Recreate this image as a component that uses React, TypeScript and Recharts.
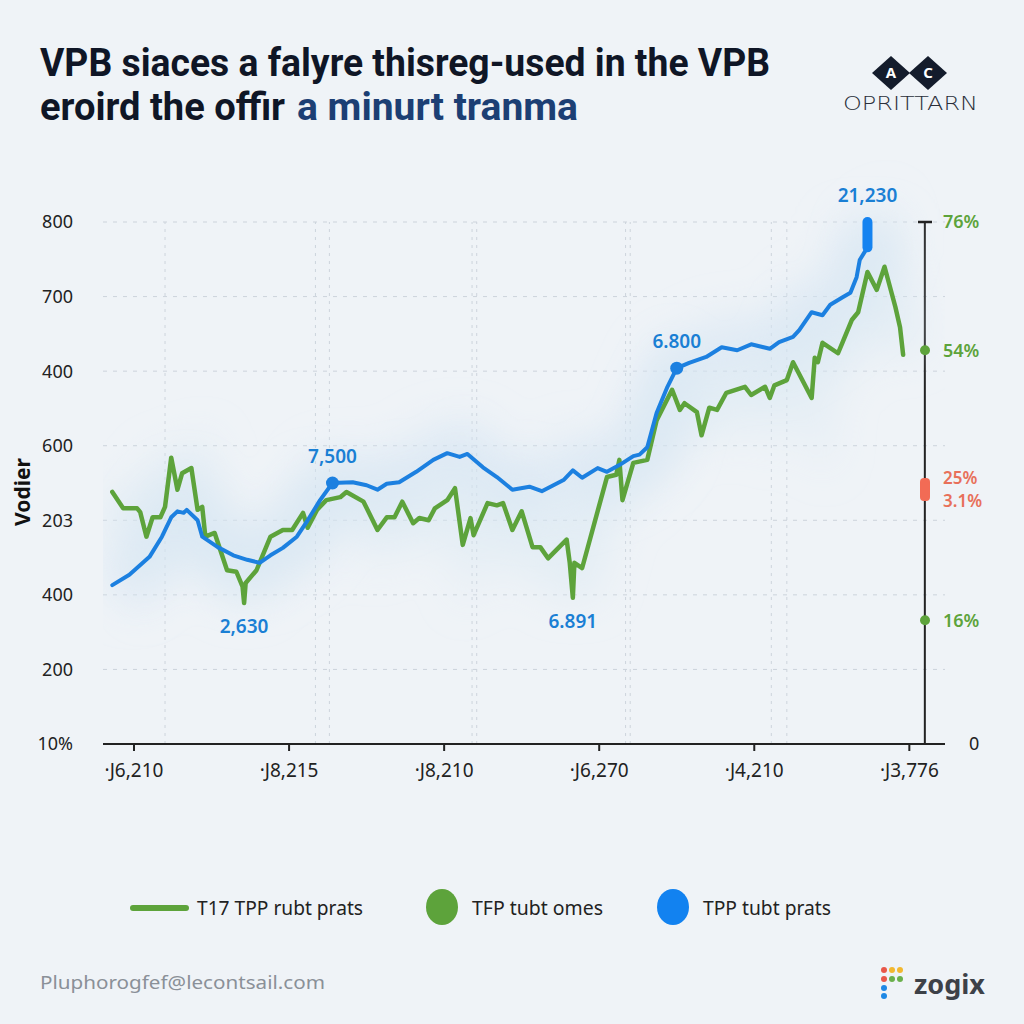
import React from 'react';
import { LineChart, Line, XAxis, YAxis, CartesianGrid, ReferenceLine, ReferenceDot } from 'recharts';

// ---------- data ----------
const leftTicks = [0, 100, 200, 300, 400, 500, 600, 700];
const leftTickLabels = ['10%', '200', '400', '203', '600', '400', '700', '800'];

const xTicks = [0, 100, 200, 300, 400, 500];
const xTickLabels = ['·J6,210', '·J8,215', '·J8,210', '·J6,270', '·J4,210', '·J3,776'];

const rightTicks = [0, 166, 342, 528, 700];
const rightTickLabels = ['0', '16%', '25%|3.1%', '54%', '76%'];
const rightTickKinds = ['plain', 'dot', 'pill', 'dot', 'cap'];
const rightAxisAt = 510;

const gridX = [20, 117, 126, 218, 221, 317, 320, 411, 421];

const blueX = [-14, -3, 10, 18, 24, 28, 32, 34, 41, 44, 54, 64, 73, 81, 88, 96, 105, 112, 120, 128, 141, 150, 157, 163, 171, 182, 193, 202, 210, 215, 225, 234, 244, 255, 263, 277, 283, 289, 299, 305, 313, 322, 326, 331, 337, 344, 350, 358, 369, 379, 389, 398, 410, 416, 425, 429, 437, 444, 449, 457, 462, 466, 468, 473, 473];
const blueY = [213, 227, 251, 278, 304, 312, 310, 314, 300, 278, 264, 253, 247, 243, 253, 263, 278, 300, 327, 350, 351, 347, 341, 349, 351, 365, 381, 390, 385, 389, 371, 358, 341, 345, 339, 354, 367, 357, 370, 365, 374, 386, 388, 398, 444, 479, 504, 511, 519, 532, 528, 536, 530, 539, 546, 555, 579, 575, 589, 599, 605, 626, 649, 666, 700];

const greenX = [-14, -7, 2, 4, 8, 12, 17, 20, 24, 28, 31, 37, 41, 44, 46, 52, 60, 66, 70, 71, 72, 79, 88, 96, 102, 109, 112, 118, 124, 133, 137, 148, 157, 163, 168, 173, 180, 184, 190, 194, 202, 207, 212, 217, 219, 228, 234, 238, 244, 250, 257, 262, 267, 279, 281, 283, 284, 289, 305, 311, 313, 315, 322, 331, 337, 347, 352, 355, 363, 366, 371, 376, 382, 394, 398, 407, 410, 413, 421, 425, 437, 439, 441, 444, 454, 457, 463, 467, 473, 479, 484, 491, 494, 496];
const greenY = [338, 316, 316, 311, 278, 304, 304, 318, 384, 341, 363, 370, 314, 318, 278, 283, 233, 231, 211, 189, 216, 233, 278, 287, 287, 310, 290, 314, 327, 331, 338, 325, 287, 304, 304, 325, 296, 303, 300, 316, 327, 343, 267, 303, 280, 323, 320, 323, 287, 312, 264, 264, 249, 274, 243, 196, 243, 236, 358, 361, 381, 327, 377, 381, 434, 475, 448, 457, 445, 414, 451, 448, 471, 479, 468, 479, 464, 481, 488, 512, 464, 518, 512, 538, 524, 539, 569, 579, 633, 609, 640, 586, 559, 522];

const annoX = [128, 350, 71, 283, 473];
const annoY = [350, 504, 189, 196, 700];
const annoText = ['7,500', '6.800', '2,630', '6.891', '21,230'];
const annoPlace = ['above', 'above', 'below', 'below', 'above'];
const annoDot = [true, true, false, false, false];

const titleLine1 = 'VPB siaces a falyre thisreg-used in the VPB';
const titleLine2a = 'eroird the offir';
const titleLine2b = 'a minurt tranma';
const yAxisTitle = 'Vodier';
const legendLabels = ['T17 TPP rubt prats', 'TFP tubt omes', 'TPP tubt prats'];
const footerText = 'Pluphorogfef@lecontsail.com';
const brandText = 'zogix';
const logoLetters = ['A', 'C'];
const logoText = 'OPRITTARN';

// ---------- derived ----------
const blueData = blueX.map((x, i) => ({ x, y: blueY[i] }));
const greenData = greenX.map((x, i) => ({ x, y: greenY[i] }));
const peakData = blueData.slice(-2);

const BLUE = '#1c80e0';
const GREEN = '#5da33b';
const LABEL_BLUE = '#1a7fd4';
const FONT = '"Noto Sans", "Open Sans", sans-serif';

const RightTick = (props: any) => {
  const { x, y, payload, index } = props;
  let i = rightTicks.indexOf(Number(payload && payload.value));
  if (i < 0) i = index;
  const kind = rightTickKinds[i];
  const label = rightTickLabels[i] || '';
  const ax = x - 20;
  const tx = ax + 18;
  if (kind === 'plain') {
    return (
      <text x={ax + 44} y={y} dy="0.36em" fontSize={18} fill="#222" fontFamily={FONT}>{label}</text>
    );
  }
  if (kind === 'pill') {
    const parts = label.split('|');
    return (
      <g>
        <rect x={ax - 5} y={y - 11} width={10} height={23} rx={4} fill="#f26b55" />
        <text x={tx} y={y - 11} dy="0.36em" fontSize={17} fontWeight={600} fill="#e8705a" fontFamily={FONT}>{parts[0]}</text>
        <text x={tx} y={y + 12} dy="0.36em" fontSize={17} fontWeight={600} fill="#e8705a" fontFamily={FONT}>{parts[1]}</text>
      </g>
    );
  }
  return (
    <g>
      {kind === 'dot' && <circle cx={ax} cy={y} r={5} fill={GREEN} />}
      {kind === 'cap' && <line x1={ax - 7} x2={ax + 7} y1={y} y2={y} stroke="#222" strokeWidth={2.5} />}
      <text x={tx} y={y} dy="0.36em" fontSize={18} fontWeight={600} fill={GREEN} fontFamily={FONT}>{label}</text>
    </g>
  );
};

const annoShape = (i: number) => (p: any) => (
  <g>
    {annoDot[i] && <circle cx={p.cx} cy={p.cy} r={6.5} fill={BLUE} />}
    <text
      x={p.cx}
      y={annoPlace[i] === 'above' ? p.cy - 20 : p.cy + 30}
      textAnchor="middle"
      fontSize={19}
      fontWeight={600}
      fill={LABEL_BLUE}
      fontFamily={FONT}
    >
      {annoText[i]}
    </text>
  </g>
);

const YTitle = (props: any) => {
  const vb = props.viewBox || {};
  const cx = 22;
  const cy = (vb.y || 0) + (vb.height || 0) / 2 + 9;
  return (
    <text x={cx} y={cy} transform={`rotate(-90 ${cx} ${cy})`} textAnchor="middle" dy="0.36em" fontSize={21} fontWeight={700} fill="#111" fontFamily={FONT}>
      {yAxisTitle}
    </text>
  );
};

const Overlay = () => (
  <svg width={1024} height={1024} style={{ position: 'absolute', left: 0, top: 0, pointerEvents: 'none' }}>
    <text x={40} y={76} fontSize={38} fontWeight={700} fill="#0f1626" fontFamily="Roboto, sans-serif" textLength={730} lengthAdjust="spacingAndGlyphs">{titleLine1}</text>
    <text x={40} y={120} fontSize={38} fontWeight={700} fill="#0f1626" fontFamily="Roboto, sans-serif" textLength={245} lengthAdjust="spacingAndGlyphs">{titleLine2a}</text>
    <text x={297} y={120} fontSize={38} fontWeight={700} fill="#1c3f74" fontFamily="Roboto, sans-serif" textLength={281} lengthAdjust="spacingAndGlyphs">{titleLine2b}</text>

    {logoLetters.map((l, i) => {
      const cx = 891 + i * 37;
      const cy = 73;
      return (
        <g key={l}>
          <polygon points={`${cx - 19},${cy} ${cx},${cy - 17} ${cx + 19},${cy} ${cx},${cy + 17}`} fill="#141c2c" />
          <text x={cx} y={cy} dy="0.36em" textAnchor="middle" fontSize={15} fontWeight={700} fill="#fff" fontFamily={FONT}>{l}</text>
        </g>
      );
    })}
    <text x={843} y={110} fontSize={19} fill="#2a2f3a" fontFamily="'DejaVu Sans', sans-serif" fontWeight={300} textLength={135} lengthAdjust="spacingAndGlyphs">{logoText}</text>

    <line x1={133} x2={186} y1={908} y2={908} stroke={GREEN} strokeWidth={6} strokeLinecap="round" />
    <text x={197} y={908} dy="0.36em" fontSize={19} fill="#222" fontFamily={FONT} textLength={166} lengthAdjust="spacingAndGlyphs">{legendLabels[0]}</text>
    <ellipse cx={442} cy={907} rx={16} ry={18} fill={GREEN} />
    <text x={472} y={908} dy="0.36em" fontSize={19} fill="#222" fontFamily={FONT} textLength={131} lengthAdjust="spacingAndGlyphs">{legendLabels[1]}</text>
    <ellipse cx={673} cy={907} rx={16} ry={18} fill="#1282f0" />
    <text x={703} y={908} dy="0.36em" fontSize={19} fill="#222" fontFamily={FONT} textLength={128} lengthAdjust="spacingAndGlyphs">{legendLabels[2]}</text>

    <text x={40} y={983} dy="0.36em" fontSize={18} fill="#8a9098" fontFamily={FONT} textLength={285} lengthAdjust="spacingAndGlyphs">{footerText}</text>
    <circle cx={884} cy={970} r={3} fill="#e8574a" />
    <circle cx={892} cy={970} r={3} fill="#f2b830" />
    <circle cx={900} cy={970} r={3} fill="#f2b830" />
    <circle cx={884} cy={979} r={3} fill="#e8574a" />
    <circle cx={892} cy={979} r={3} fill="#6ab04c" />
    <circle cx={900} cy={979} r={3} fill="#6ab04c" />
    <circle cx={884} cy={988} r={3} fill="#1e88e5" />
    <circle cx={884} cy={996} r={3} fill="#1e88e5" />
    <text x={914} y={984} dy="0.36em" fontSize={27} fontWeight={700} fill="#3d4148" fontFamily={FONT}>{brandText}</text>
  </svg>
);

export default function App() {
  return (
    <div style={{ position: 'absolute', left: 0, top: 0, width: 1024, height: 1024, background: '#eff3f7', overflow: 'hidden' }}>
      <LineChart width={1024} height={1024} margin={{ top: 222, right: 0, bottom: 240, left: 0 }}>
        <defs>
          <filter id="haze" x="-30%" y="-80%" width="160%" height="260%">
            <feGaussianBlur stdDeviation="20" />
          </filter>
        </defs>
        <CartesianGrid stroke="#ccd3db" strokeDasharray="4 6" vertical={false} />
        {gridX.map((v) => (
          <ReferenceLine key={v} x={v} stroke="#cdd4dc" strokeDasharray="3 5" />
        ))}
        <XAxis
          dataKey="x"
          type="number"
          domain={[-20, 523]}
          ticks={xTicks}
          tickFormatter={(v: number) => xTickLabels[xTicks.indexOf(v)]}
          allowDataOverflow
          height={40}
          tickSize={7}
          tickMargin={13}
          axisLine={{ stroke: '#222', strokeWidth: 2 }}
          tickLine={{ stroke: '#222', strokeWidth: 2 }}
          tick={{ fill: '#222', fontSize: 19, fontFamily: FONT }}
        />
        <YAxis
          type="number"
          domain={[0, 700]}
          ticks={leftTicks}
          tickFormatter={(v: number) => leftTickLabels[leftTicks.indexOf(v)]}
          width={103}
          axisLine={false}
          tickLine={false}
          tickSize={0}
          tickMargin={30}
          tick={{ fill: '#222', fontSize: 18, fontFamily: FONT }}
          label={<YTitle />}
        />
        <YAxis
          yAxisId="right"
          orientation="right"
          type="number"
          domain={[0, 700]}
          allowDataOverflow
          ticks={rightTicks}
          interval={0}
          width={79}
          axisLine={false}
          tickLine={false}
          tickSize={0}
          tickMargin={0}
          tick={<RightTick />}
        />
        <ReferenceLine x={rightAxisAt} stroke="#222" strokeWidth={2} />
        <Line yAxisId="right" data={blueData} dataKey="y" type="linear" stroke="none" strokeWidth={0} dot={false} isAnimationActive={false} legendType="none" />
        <Line data={blueData} dataKey="y" type="linear" stroke="#d3e3f3" strokeWidth={60} strokeOpacity={0.55} dot={false} isAnimationActive={false} filter="url(#haze)" legendType="none" />
        <Line data={greenData} dataKey="y" type="linear" stroke="#d8e6f2" strokeWidth={44} strokeOpacity={0.45} dot={false} isAnimationActive={false} filter="url(#haze)" legendType="none" />
        <Line data={greenData} dataKey="y" type="linear" stroke={GREEN} strokeWidth={4.5} strokeLinejoin="round" strokeLinecap="round" dot={false} isAnimationActive={false} />
        <Line data={blueData} dataKey="y" type="linear" stroke={BLUE} strokeWidth={4} strokeLinejoin="round" strokeLinecap="round" dot={false} isAnimationActive={false} />
        <Line data={peakData} dataKey="y" type="linear" stroke="#1583f0" strokeWidth={10} strokeLinecap="round" dot={false} isAnimationActive={false} />
        {annoX.map((x, i) => (
          <ReferenceDot key={i} x={x} y={annoY[i]} r={annoDot[i] ? 6.5 : 0} shape={annoShape(i)} />
        ))}
      </LineChart>
      <Overlay />
    </div>
  );
}
